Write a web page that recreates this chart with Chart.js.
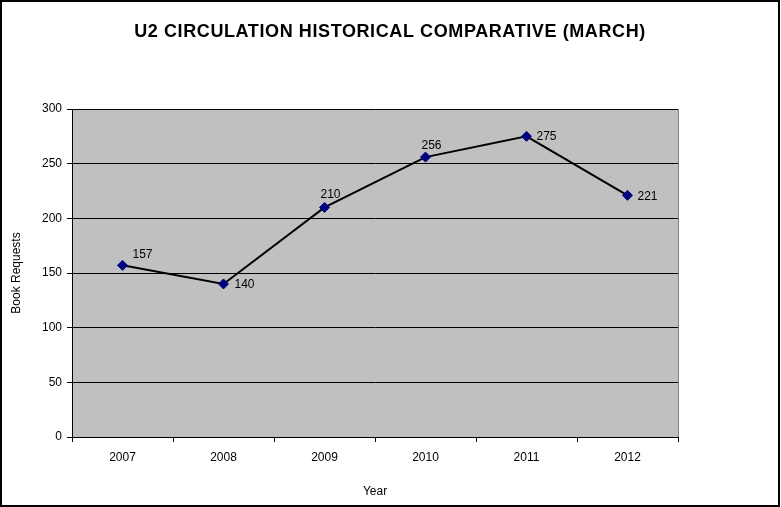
<!DOCTYPE html>
<html>
<head>
<meta charset="utf-8">
<style>
html,body{margin:0;padding:0;background:#fff;}
#wrap{width:781px;height:507px;position:relative;}
</style>
<script src="https://cdn.jsdelivr.net/npm/chart.js@4"></script>
</head>
<body>
<div id="wrap"><canvas id="c" width="781" height="507"></canvas></div>
<script>
const years = ['2007', '2008', '2009', '2010', '2011', '2012'];
const bookRequests = [157, 140, 210, 256, 275, 221];
const yTicks = [0, 50, 100, 150, 200, 250, 300];

const chartTitle = 'U2 CIRCULATION HISTORICAL COMPARATIVE (MARCH)';
const yAxisTitle = 'Book Requests';
const xAxisTitle = 'Year';

const FONT = 'Arial, "Liberation Sans", sans-serif';

// label placement offsets relative to each point (px)
const labelOffsets = [[10, -12], [11, 0], [-4, -14], [-4, -12], [10, -1], [10, 0]];

const framePlugin = {
  id: 'frame',
  beforeDraw(chart) {
    const {ctx, chartArea: a} = chart;
    ctx.save();
    ctx.fillStyle = '#ffffff';
    ctx.fillRect(0, 0, chart.width, chart.height);
    ctx.fillStyle = '#c0c0c0';
    ctx.fillRect(a.left, a.top, a.right - a.left, a.bottom - a.top);
    ctx.strokeStyle = '#808080';
    ctx.lineWidth = 1;
    ctx.beginPath();
    ctx.moveTo(a.left, a.top + 0.5);
    ctx.lineTo(a.right + 0.5, a.top + 0.5);
    ctx.lineTo(a.right + 0.5, a.bottom);
    ctx.stroke();
    // chart title
    ctx.fillStyle = '#000';
    ctx.font = 'bold 18px ' + FONT;
    if ('letterSpacing' in ctx) ctx.letterSpacing = '0.6px';
    ctx.textAlign = 'center';
    ctx.textBaseline = 'middle';
    ctx.fillText(chartTitle, 390, 32);
    ctx.restore();
  },
  afterDraw(chart) {
    const ctx = chart.ctx;
    ctx.save();
    ctx.strokeStyle = '#000';
    ctx.lineWidth = 2;
    ctx.strokeRect(1, 1, chart.width - 3, chart.height - 2);
    ctx.restore();
  }
};

const labelPlugin = {
  id: 'valueLabels',
  afterDatasetsDraw(chart) {
    const ctx = chart.ctx;
    const meta = chart.getDatasetMeta(0);
    const data = chart.data.datasets[0].data;
    ctx.save();
    ctx.font = '12px ' + FONT;
    ctx.fillStyle = '#000';
    ctx.textAlign = 'left';
    ctx.textBaseline = 'middle';
    meta.data.forEach((pt, i) => {
      const off = labelOffsets[i] || [10, 0];
      ctx.fillText(String(data[i]), pt.x + off[0], pt.y + off[1] + 1);
    });
    ctx.restore();
  }
};

new Chart(document.getElementById('c'), {
  type: 'line',
  data: {
    labels: years,
    datasets: [{
      data: bookRequests,
      borderColor: '#000000',
      borderWidth: 2,
      backgroundColor: '#000080',
      pointStyle: 'rectRot',
      pointRadius: 5,
      pointHoverRadius: 5,
      pointBackgroundColor: '#000080',
      pointBorderColor: '#000080',
      pointBorderWidth: 1,
      tension: 0,
      fill: false
    }]
  },
  options: {
    responsive: false,
    animation: false,
    devicePixelRatio: 1,
    layout: { padding: { left: 0, right: 103, top: 109, bottom: 0 } },
    plugins: {
      legend: { display: false },
      tooltip: { enabled: false },
      title: { display: false }
    },
    scales: {
      x: {
        type: 'category',
        offset: true,
        afterFit(scale) { scale.height = 70; },
        grid: {
          offset: true,
          drawOnChartArea: false,
          drawTicks: true,
          tickLength: 5,
          color: '#000'
        },
        border: { display: true, color: '#000', width: 1 },
        ticks: {
          color: '#000',
          font: { family: FONT, size: 12 },
          padding: 8,
          maxRotation: 0
        },
        title: {
          display: true,
          text: xAxisTitle,
          color: '#000',
          font: { family: FONT, size: 12 },
          padding: { top: 0, bottom: 8 }
        }
      },
      y: {
        min: 0,
        max: 300,
        afterFit(scale) { scale.width = 72; },
        afterBuildTicks(scale) { scale.ticks = yTicks.map(v => ({ value: v })); },
        grid: {
          drawOnChartArea: true,
          drawTicks: true,
          tickLength: 5,
          color: '#000'
        },
        border: { display: true, color: '#000', width: 1 },
        ticks: {
          color: '#000',
          font: { family: FONT, size: 12 },
          padding: 5
        },
        title: {
          display: true,
          text: yAxisTitle,
          color: '#000',
          font: { family: FONT, size: 12 },
          padding: { top: 9, bottom: 0 }
        }
      }
    }
  },
  plugins: [framePlugin, labelPlugin]
});
</script>
</body>
</html>
